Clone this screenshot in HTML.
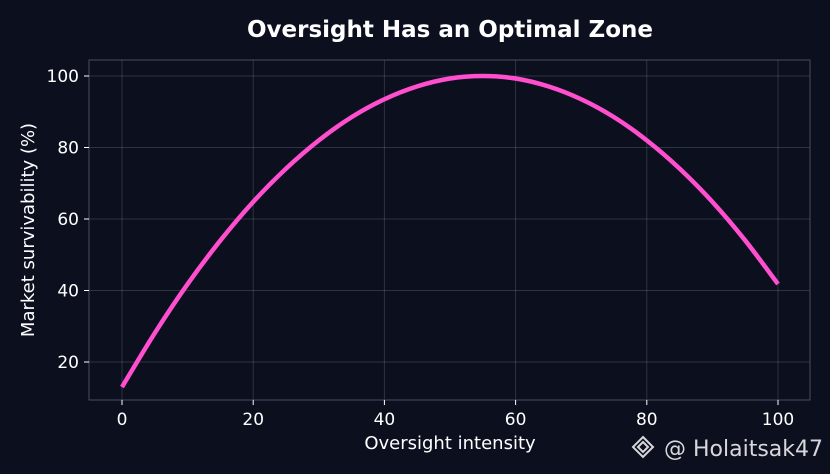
<!DOCTYPE html>
<html><head><meta charset="utf-8"><style>
html,body{margin:0;padding:0;background:#0b0f1e;}
svg{display:block;font-family:"DejaVu Sans","Liberation Sans",sans-serif;}
</style></head><body>
<svg id="chart" width="830" height="474" viewBox="0 0 830 474">
<rect width="830" height="474" fill="#0b0f1e"/>
<text x="450" y="37" text-anchor="middle" fill="#ffffff" font-size="23" font-weight="bold">Oversight Has an Optimal Zone</text>
<g id="grid"></g>
<rect x="89" y="60" width="721" height="340" fill="none" stroke="#4a4f60" stroke-width="1"/>
<g id="ticks"></g>
<path id="curve" fill="none" stroke="#ff4fcf" stroke-width="4.5" stroke-linejoin="round"/>
<text x="450" y="449" text-anchor="middle" fill="#ffffff" font-size="18">Oversight intensity</text>
<text transform="translate(34,230) rotate(-90)" text-anchor="middle" fill="#ffffff" font-size="18">Market survivability (%)</text>
<text x="664" y="456" fill="#d8d8dc" font-size="22">@ Holaitsak47</text>
<g transform="translate(643,447)"><path d="M0,-10 L10,0 L0,10 L-10,0 Z M0,-5 L5,0 L0,5 L-5,0 Z" fill="none" stroke="#d8d8dc" stroke-width="2"/></g>
</svg>
<script>
const xValues=[0,5,10,15,20,25,30,35,40,45,50,55,60,65,70,75,80,85,90,95,100];
const yValues=[13.0,28.1,41.8,54.0,64.8,74.1,82.0,88.5,93.5,97.1,99.3,100,99.3,97.1,93.5,88.5,82.0,74.1,64.8,54.0,41.8];
const xTicks=[0,20,40,60,80,100];
const yTicks=[20,40,60,80,100];
function sx(v){return 122+(778-122)*v/100;}
function sy(v){return 362-(362-76)*(v-20)/80;}
const ns="http://www.w3.org/2000/svg";
const grid=document.getElementById('grid'),ticks=document.getElementById('ticks');
function mk(tag,attrs,parent){const e=document.createElementNS(ns,tag);for(const k in attrs)e.setAttribute(k,attrs[k]);parent.appendChild(e);return e;}
xTicks.forEach(t=>{
  const g=mk('line',{x1:sx(t),x2:sx(t),y1:60,y2:400,stroke:'#ffffff','stroke-opacity':0.15,'stroke-width':1},grid);
  
  
  const tk=mk('line',{x1:sx(t),x2:sx(t),y1:400,y2:405,stroke:'#ffffff','stroke-width':1},ticks);
  
  
  const lb=mk('text',{x:sx(t),y:425,'text-anchor':'middle',fill:'#ffffff','font-size':17},ticks);
  lb.textContent=t;
  
  
});
yTicks.forEach(t=>{
  const g=mk('line',{x1:89,x2:810,y1:sy(t),y2:sy(t),stroke:'#ffffff','stroke-opacity':0.15,'stroke-width':1},grid);
  
  
  const tk=mk('line',{x1:84,x2:89,y1:sy(t),y2:sy(t),stroke:'#ffffff','stroke-width':1},ticks);
  
  
  const lb=mk('text',{x:79,y:sy(t)+6,'text-anchor':'end',fill:'#ffffff','font-size':17},ticks);
  lb.textContent=t;
  
  
});
const pts=xValues.map((x,i)=>[sx(x),sy(yValues[i])]);
let d='M'+pts[0][0]+','+pts[0][1];
for(let i=0;i<pts.length-1;i++){
  const p0=pts[i-1]||pts[i],p1=pts[i],p2=pts[i+1],p3=pts[i+2]||p2;
  const c1=[p1[0]+(p2[0]-p0[0])/6,p1[1]+(p2[1]-p0[1])/6];
  const c2=[p2[0]-(p3[0]-p1[0])/6,p2[1]-(p3[1]-p1[1])/6];
  d+=' C'+c1[0]+','+c1[1]+' '+c2[0]+','+c2[1]+' '+p2[0]+','+p2[1];
}
document.getElementById('curve').setAttribute('d',d);
</script>
</body></html>
